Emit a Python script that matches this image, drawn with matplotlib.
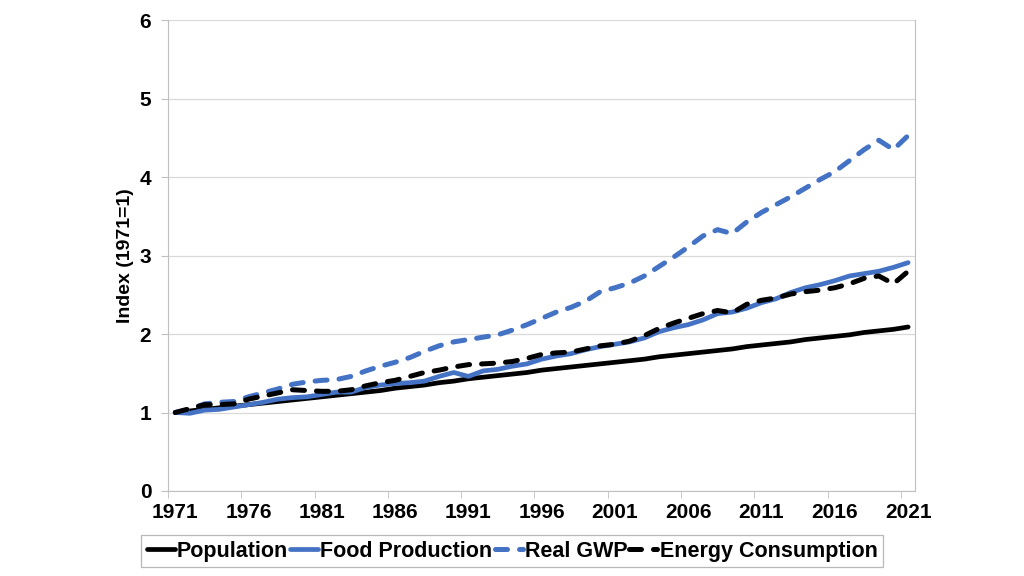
import matplotlib
matplotlib.use("Agg")
import matplotlib.pyplot as plt
import numpy as np

# Datos (índice 1971 = 1)
anios = np.arange(1971, 2022)

poblacion = [1.00, 1.02, 1.04, 1.06, 1.08, 1.10, 1.12, 1.14, 1.16, 1.18,
             1.20, 1.22, 1.24, 1.26, 1.28, 1.31, 1.33, 1.35, 1.38, 1.40,
             1.43, 1.45, 1.47, 1.49, 1.51, 1.54, 1.56, 1.58, 1.60, 1.62,
             1.64, 1.66, 1.68, 1.71, 1.73, 1.75, 1.77, 1.79, 1.81, 1.84,
             1.86, 1.88, 1.90, 1.93, 1.95, 1.97, 1.99, 2.02, 2.04, 2.06,
             2.09]

alimentos = [1.00, 0.99, 1.03, 1.04, 1.07, 1.10, 1.13, 1.17, 1.19, 1.20,
             1.23, 1.26, 1.26, 1.32, 1.35, 1.37, 1.38, 1.40, 1.46, 1.51,
             1.46, 1.53, 1.55, 1.59, 1.62, 1.68, 1.72, 1.75, 1.80, 1.84,
             1.87, 1.90, 1.95, 2.03, 2.08, 2.12, 2.18, 2.26, 2.28, 2.33,
             2.40, 2.45, 2.53, 2.59, 2.63, 2.68, 2.74, 2.77, 2.80, 2.85,
             2.91]

gwp = [1.00, 1.04, 1.11, 1.13, 1.14, 1.20, 1.25, 1.30, 1.36, 1.39,
       1.41, 1.42, 1.46, 1.53, 1.59, 1.64, 1.70, 1.78, 1.85, 1.90,
       1.93, 1.96, 1.99, 2.05, 2.12, 2.20, 2.28, 2.34, 2.42, 2.54,
       2.59, 2.65, 2.74, 2.86, 2.98, 3.11, 3.25, 3.33, 3.28, 3.43,
       3.55, 3.65, 3.75, 3.86, 3.97, 4.07, 4.21, 4.35, 4.47, 4.35,
       4.53]

energia = [1.00, 1.05, 1.10, 1.10, 1.11, 1.17, 1.21, 1.25, 1.29, 1.28,
           1.27, 1.27, 1.29, 1.34, 1.38, 1.41, 1.46, 1.51, 1.54, 1.58,
           1.61, 1.62, 1.63, 1.65, 1.69, 1.74, 1.76, 1.77, 1.81, 1.85,
           1.87, 1.91, 1.98, 2.07, 2.14, 2.20, 2.26, 2.30, 2.27, 2.38,
           2.43, 2.46, 2.51, 2.54, 2.56, 2.59, 2.64, 2.71, 2.74, 2.64,
           2.80]

etiquetas_x = np.arange(1971, 2022, 5)
azul = '#4472C4'

plt.rcParams['font.family'] = ['Liberation Sans', 'DejaVu Sans']
plt.rcParams['font.weight'] = 'bold'

fig = plt.figure(figsize=(10.24, 5.76), dpi=100)
ax = fig.add_axes([0.164, 0.1476, 0.73, 0.8174])

ax.plot(anios, poblacion, color='black', lw=3.4, label='Population',
        solid_capstyle='round')
ax.plot(anios, alimentos, color=azul, lw=3.4, label='Food Production',
        solid_capstyle='round')
ax.plot(anios, gwp, color=azul, lw=3.6, label='Real GWP',
        dashes=(2.4, 2.4), dash_capstyle='round')
ax.plot(anios, energia, color='black', lw=3.6, label='Energy Consumption',
        dashes=(2.4, 2.4), dash_capstyle='round')

ax.set_xlim(1970.5, 2021.5)
ax.set_ylim(0, 6)
ax.set_yticks(range(0, 7))
ax.set_xticks(etiquetas_x)
ax.set_xticklabels([str(a) for a in etiquetas_x])
ax.set_xticks(np.arange(1970.5, 2022, 5), minor=True)
ax.tick_params(axis='x', which='major', length=0, labelsize=15, pad=9)
ax.tick_params(axis='x', which='minor', length=5, color='#BFBFBF')
ax.tick_params(axis='y', length=5, color='#BFBFBF', labelsize=15, pad=7)

ax.grid(axis='y', color='#D9D9D9', lw=0.9)
ax.set_axisbelow(True)
for s in ax.spines.values():
    s.set_color('#BFBFBF')
ax.spines['top'].set_visible(False)

ax.set_ylabel('Index (1971=1)', fontsize=14, fontweight='bold', labelpad=4)

leg = fig.legend(loc='center', bbox_to_anchor=(0.5, 0.043), ncol=4,
                 frameon=True, fancybox=False, fontsize=15.5,
                 handlelength=1.3, handletextpad=0.1, columnspacing=0.1,
                 borderpad=0.25, edgecolor='#A6A6A6')
leg.get_frame().set_linewidth(0.9)

fig.savefig('out.png', dpi=100)
